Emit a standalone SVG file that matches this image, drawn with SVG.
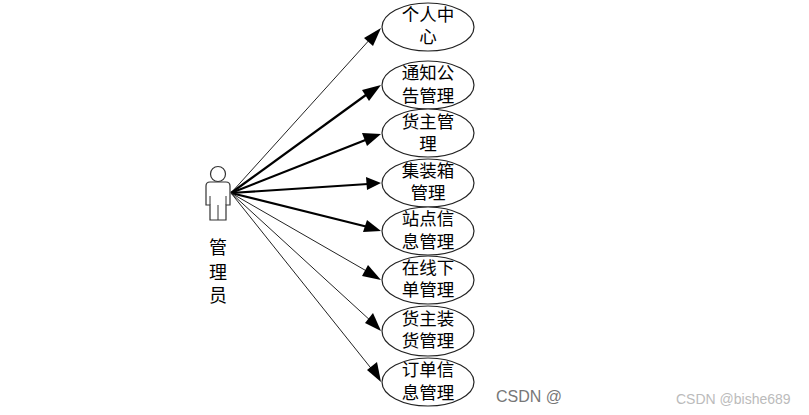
<svg xmlns="http://www.w3.org/2000/svg" width="809" height="415" viewBox="0 0 809 415">
<style>
text{font-family:"Noto Sans CJK SC","Liberation Sans",sans-serif;font-size:17.5px;font-weight:400;fill:#000;text-anchor:middle}
.n ellipse{fill:#fff;stroke:#222;stroke-width:1.2}
.c line{stroke:#222;stroke-width:1}
.c .b{stroke:#000;stroke-width:2.2}
.c polygon{fill:#000}
.a{fill:#fff;stroke:#333;stroke-width:1.2}
</style>
<rect width="809" height="415" fill="#fff"/>
<g id="connectors" class="c">
<line x1="231" y1="193" x2="372" y2="37"/><polygon points="381,28 373,46 364,38"/>
<line class="b" x1="231" y1="193" x2="370" y2="92"/><polygon points="381,85 369,101 362,90"/>
<line class="b" x1="231" y1="193" x2="368" y2="139"/><polygon points="381,134 367,146 362,133"/>
<line class="b" x1="231" y1="193" x2="368" y2="184"/><polygon points="381,183 367,190 366,177"/>
<line class="b" x1="231" y1="193" x2="368" y2="227"/><polygon points="381,231 363,232 367,220"/>
<line x1="231" y1="193" x2="370" y2="273"/><polygon points="381,280 362,276 368,265"/>
<line x1="231" y1="193" x2="372" y2="322"/><polygon points="381,331 365,323 373,313"/>
<line x1="231" y1="193" x2="374" y2="372"/><polygon points="381,382 367,370 377,362"/>
</g>
<g id="actor">
<circle class="a" cx="218" cy="174" r="7.5"/>
<path class="a" d="M210 182H226Q230 182 230 186V205H226V220H210V205H206V186Q206 182 210 182Z"/>
<path d="M210 196V205M226 196V205M218 205V220" fill="none" stroke="#333" stroke-width="1"/>
<text x="218" style="font-size:18px"><tspan x="218" y="254">管</tspan><tspan x="218" y="279">理</tspan><tspan x="218" y="302">员</tspan></text>
</g>
<g id="n1" class="n"><ellipse cx="428" cy="27" rx="46" ry="24"/><text><tspan x="428" y="21">个人中</tspan><tspan x="428" y="43">心</tspan></text></g>
<g id="n2" class="n"><ellipse cx="428" cy="85" rx="46" ry="24"/><text><tspan x="428" y="79">通知公</tspan><tspan x="428" y="102">告管理</tspan></text></g>
<g id="n3" class="n"><ellipse cx="428" cy="133" rx="46" ry="24"/><text><tspan x="428" y="128">货主管</tspan><tspan x="428" y="150">理</tspan></text></g>
<g id="n4" class="n"><ellipse cx="428" cy="183" rx="46" ry="24"/><text><tspan x="428" y="177">集装箱</tspan><tspan x="428" y="199">管理</tspan></text></g>
<g id="n5" class="n"><ellipse cx="428" cy="231" rx="46" ry="24"/><text><tspan x="428" y="225">站点信</tspan><tspan x="428" y="248">息管理</tspan></text></g>
<g id="n6" class="n"><ellipse cx="428" cy="280" rx="46" ry="24"/><text><tspan x="428" y="274">在线下</tspan><tspan x="428" y="296">单管理</tspan></text></g>
<g id="n7" class="n"><ellipse cx="428" cy="331" rx="46" ry="25"/><text><tspan x="428" y="325">货主装</tspan><tspan x="428" y="347">货管理</tspan></text></g>
<g id="n8" class="n"><ellipse cx="428" cy="382" rx="46" ry="24"/><text><tspan x="428" y="376">订单信</tspan><tspan x="428" y="399">息管理</tspan></text></g>
<text x="496" y="402" style="font-family:'Liberation Sans',sans-serif;font-size:16px;fill:#777;text-anchor:start">CSDN @</text>
<text x="676" y="404" style="font-family:'Liberation Sans',sans-serif;font-size:14px;fill:#bbb;text-anchor:start">CSDN @bishe689</text>
</svg>
